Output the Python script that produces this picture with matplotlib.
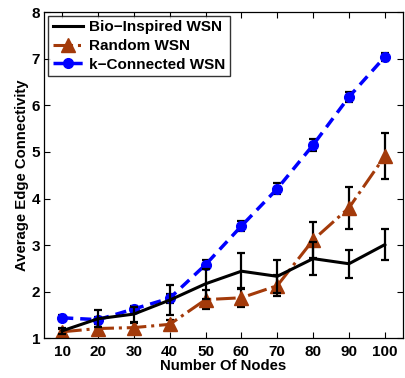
import matplotlib
matplotlib.use("Agg")
import matplotlib.pyplot as plt
from matplotlib.lines import Line2D

plt.rcParams['font.family'] = ['Liberation Sans', 'DejaVu Sans']
plt.rcParams['font.weight'] = 'bold'

nodes = [10, 20, 30, 40, 50, 60, 70, 80, 90, 100]

bio_mean = [1.16, 1.42, 1.52, 1.82, 2.17, 2.44, 2.33, 2.71, 2.60, 3.01]
bio_err = [0.06, 0.18, 0.16, 0.33, 0.32, 0.39, 0.35, 0.36, 0.30, 0.34]

rand_mean = [1.14, 1.21, 1.23, 1.30, 1.83, 1.87, 2.13, 3.11, 3.80, 4.91]
rand_err = [0.06, 0.10, 0.10, 0.10, 0.21, 0.20, 0.22, 0.38, 0.45, 0.50]

kcon_mean = [1.44, 1.40, 1.63, 1.86, 2.58, 3.41, 4.21, 5.15, 6.18, 7.04]
kcon_err = [0.07, 0.06, 0.07, 0.10, 0.10, 0.10, 0.12, 0.12, 0.10, 0.09]

labels = ['Bio\u2212Inspired WSN', 'Random WSN', 'k\u2212Connected WSN']

fig = plt.figure(figsize=(4.06, 3.78), dpi=100)
ax = fig.add_axes([0.109, 0.105, 0.883, 0.863])

brown = '#A33A0A'
blue = '#0000FF'
bio_style = dict(color='black', lw=2.2)
rand_style = dict(color=brown, lw=2.2, ls='-.', marker='^', markersize=10,
                  markerfacecolor=brown, markeredgecolor=brown)
kcon_style = dict(color=blue, lw=2.5, ls=(0, (3.2, 2)), marker='o',
                  markersize=7, markerfacecolor=blue, markeredgecolor=blue)
err_style = dict(ecolor='black', elinewidth=1.6, capsize=3, capthick=1.6)

ax.errorbar(nodes, bio_mean, yerr=bio_err, zorder=3, **bio_style, **err_style)
ax.errorbar(nodes, rand_mean, yerr=rand_err, zorder=2, **rand_style, **err_style)
ax.errorbar(nodes, kcon_mean, yerr=kcon_err, zorder=2, **kcon_style, **err_style)

ax.set_xlim(5, 105)
ax.set_ylim(1, 8)
ax.set_xticks(nodes)
ax.set_yticks(range(1, 9))
ax.tick_params(direction='in', top=True, right=True, labelsize=11,
               length=4, width=0.8)
ax.tick_params(axis='x', pad=5)
ax.tick_params(axis='y', pad=3)
for lab in ax.get_xticklabels() + ax.get_yticklabels():
    lab.set_fontweight('bold')
ax.set_xlabel('Number Of Nodes', fontsize=10.7, fontweight='bold', labelpad=0)
ax.set_ylabel('Average Edge Connectivity', fontsize=10.7, fontweight='bold',
              labelpad=2)
for s in ax.spines.values():
    s.set_linewidth(0.9)

handles = [Line2D([], [], **bio_style), Line2D([], [], **rand_style),
           Line2D([], [], **kcon_style)]
leg = ax.legend(handles, labels, loc='upper left', fontsize=11, frameon=True,
                fancybox=False, edgecolor='black', borderaxespad=0.25,
                handlelength=2.0, handletextpad=0.4, labelspacing=0.3,
                borderpad=0.3)
leg.get_frame().set_linewidth(1.0)
for t in leg.get_texts():
    t.set_fontweight('bold')

fig.savefig('out.png', dpi=100)
